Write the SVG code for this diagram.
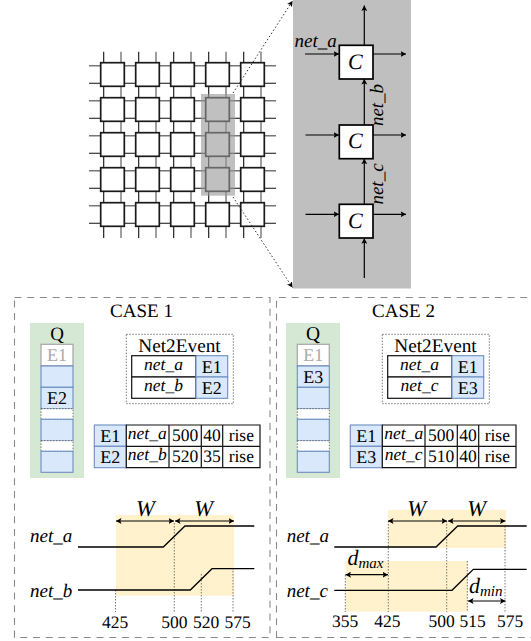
<svg xmlns="http://www.w3.org/2000/svg" width="531" height="641" viewBox="0 0 531 641">
<style>
text{font-family:"Liberation Serif","Times New Roman",serif;fill:#000;text-rendering:geometricPrecision}
.i{font-style:italic}
.t{font-size:17.5px}
.e{font-size:18px}
.m{text-anchor:middle}
.h{font-size:19px}
.gr{fill:none;stroke:#111;stroke-width:1.1}
.gy{fill:none;stroke:#777;stroke-width:1.4}
.cell{fill:#fff;stroke:#1a1a1a;stroke-width:1.7}
.cc{fill:#fff;stroke:#000;stroke-width:1.7}
.blue{fill:#dae8fc;stroke:#6c8ebf;stroke-width:1.1}
.old{fill:#fff;stroke:#aaa;stroke-width:1.3}
.gap{fill:#fff;stroke:#555;stroke-width:.8;stroke-dasharray:1.5 1.5}
.tab{fill:#fff;stroke:#111;stroke-width:1.2}
.dot{fill:none;stroke:#555;stroke-width:.8;stroke-dasharray:1.5 1.5}
.zl{fill:none;stroke:#333;stroke-width:1;stroke-dasharray:1.5 2.2;marker-end:url(#a)}
.dash{fill:none;stroke:#8a8a8a;stroke-width:1.1;stroke-dasharray:7 5.7}
.arr{fill:none;stroke:#000;stroke-width:1.2;marker-end:url(#a)}
.dbl{fill:none;stroke:#000;stroke-width:1.2;marker-start:url(#b);marker-end:url(#a)}
.wav{fill:none;stroke:#000;stroke-width:1.3}
</style>
<defs>
<marker id="a" markerWidth="6" markerHeight="6" refX="5.500" refY="3" orient="auto" markerUnits="userSpaceOnUse"><path d="M0 0L5.500 3L0 6L1.200 3Z" fill="#000"/></marker>
<marker id="b" markerWidth="6" markerHeight="6" refX="0" refY="3" orient="auto" markerUnits="userSpaceOnUse"><path d="M5.500 0L0 3L5.500 6L4.300 3Z" fill="#000"/></marker>
</defs>
<g id="grid">
<path class="gy" d="M89 65.700H276M89 100.700H276M89 135.700H276M89 170.700H276M89 205.700H276"/>
<path class="gr" d="M89 83.300H276M89 118.300H276M89 153.300H276M89 188.300H276M89 223.300H276"/>
<path class="gr" d="M103.700 51.700V238M138.700 51.700V238M173.700 51.700V238M208.700 51.700V238M243.700 51.700V238"/>
<path class="gy" d="M121 51.700V238M156 51.700V238M191 51.700V238M226 51.700V238M261 51.700V238"/>
<g id="cells">
<rect class="cell" x="100.700" y="62.700" width="23.600" height="23.600"/><rect class="cell" x="135.700" y="62.700" width="23.600" height="23.600"/><rect class="cell" x="170.700" y="62.700" width="23.600" height="23.600"/><rect class="cell" x="205.700" y="62.700" width="23.600" height="23.600"/><rect class="cell" x="240.700" y="62.700" width="23.600" height="23.600"/>
<rect class="cell" x="100.700" y="97.700" width="23.600" height="23.600"/><rect class="cell" x="135.700" y="97.700" width="23.600" height="23.600"/><rect class="cell" x="170.700" y="97.700" width="23.600" height="23.600"/><rect class="cell" x="205.700" y="97.700" width="23.600" height="23.600"/><rect class="cell" x="240.700" y="97.700" width="23.600" height="23.600"/>
<rect class="cell" x="100.700" y="132.700" width="23.600" height="23.600"/><rect class="cell" x="135.700" y="132.700" width="23.600" height="23.600"/><rect class="cell" x="170.700" y="132.700" width="23.600" height="23.600"/><rect class="cell" x="205.700" y="132.700" width="23.600" height="23.600"/><rect class="cell" x="240.700" y="132.700" width="23.600" height="23.600"/>
<rect class="cell" x="100.700" y="167.700" width="23.600" height="23.600"/><rect class="cell" x="135.700" y="167.700" width="23.600" height="23.600"/><rect class="cell" x="170.700" y="167.700" width="23.600" height="23.600"/><rect class="cell" x="205.700" y="167.700" width="23.600" height="23.600"/><rect class="cell" x="240.700" y="167.700" width="23.600" height="23.600"/>
<rect class="cell" x="100.700" y="202.700" width="23.600" height="23.600"/><rect class="cell" x="135.700" y="202.700" width="23.600" height="23.600"/><rect class="cell" x="170.700" y="202.700" width="23.600" height="23.600"/><rect class="cell" x="205.700" y="202.700" width="23.600" height="23.600"/><rect class="cell" x="240.700" y="202.700" width="23.600" height="23.600"/>
</g>
<rect id="highlight" x="201" y="94" width="34" height="101.700" fill="#989898" fill-opacity=".61"/>
</g>
<g id="zoom-lines">
<path class="zl" d="M233 93L292.500 1"/>
<path class="zl" d="M233 197L292.500 287.500"/>
</g>
<rect id="zoom-panel" x="293" y="0" width="118" height="288.500" fill="#bfbfbf"/>
<g id="connectors">
<path class="arr" d="M305 54H339"/><path class="arr" d="M373 54H406"/>
<path class="arr" d="M305.500 135H339"/><path class="arr" d="M373 135H406"/>
<path class="arr" d="M305.500 214.300H339"/><path class="arr" d="M373 214.300H406"/>
<path class="arr" d="M364.300 45V5.500"/><path class="arr" d="M364.300 125V79"/><path class="arr" d="M364.300 204.300V158.700"/><path class="arr" d="M364.300 278V238.300"/>
</g>
<g id="node-c1"><rect class="cc" x="339.300" y="45.300" width="33.700" height="33.700"/><text class="i m" x="355.300" y="69.300" font-size="22">C</text></g>
<g id="node-c2"><rect class="cc" x="339.300" y="125" width="33.700" height="33.700"/><text class="i m" x="355.300" y="148.300" font-size="22">C</text></g>
<g id="node-c3"><rect class="cc" x="339.300" y="204.300" width="33.700" height="33.700"/><text class="i m" x="355.300" y="228.300" font-size="22">C</text></g>
<text class="i h" x="294.500" y="47">net_a</text>
<text class="i h m" transform="translate(383.300 105) rotate(-90)">net_b</text>
<text class="i h m" transform="translate(383.300 184) rotate(-90)">net_c</text>

<g id="case1">
<rect class="dash" x="14.500" y="297.500" width="255.500" height="340"/>
<text class="h m" x="141.500" y="317.300">CASE 1</text>
<g id="q1">
<rect x="30" y="323" width="54" height="155" fill="#d5e8d4"/>
<text class="h m" x="57" y="340" font-size="19.500">Q</text>
<rect class="old" x="41" y="344.300" width="32" height="21.500"/><text class="e m" x="57" y="360.500" style="fill:#aaa">E1</text>
<rect class="blue" x="41" y="366" width="32" height="21.300"/>
<rect class="blue" x="41" y="387.300" width="32" height="21.300"/><text class="e m" x="57" y="404.300">E2</text>
<rect class="gap" x="41" y="408.700" width="32" height="10.600"/>
<rect class="blue" x="41" y="419.300" width="32" height="21.400"/>
<rect class="gap" x="41" y="440.700" width="32" height="10.600"/>
<rect class="blue" x="41" y="451.300" width="32" height="21"/>
</g>
<g id="n2e1">
<rect class="dot" x="126.300" y="334.300" width="107" height="69.400"/>
<text class="m" font-size="19.300" x="179.500" y="351.700">Net2Event</text>
<rect class="tab" x="131.700" y="355.700" width="64.300" height="21.300"/><text class="i t m" x="163.500" y="369.500">net_a</text>
<rect class="tab" x="131.700" y="377" width="64.300" height="21.300"/><text class="i t m" x="163.500" y="391">net_b</text>
<rect class="blue" x="196" y="355.700" width="31.700" height="21.300"/><text class="e m" x="211.800" y="372.700">E1</text>
<rect class="blue" x="196" y="377" width="31.700" height="21.300"/><text class="e m" x="211.800" y="394">E2</text>
</g>
<g id="ev1">
<rect class="blue" x="94.300" y="425" width="32" height="21.300"/><text class="e m" x="110.300" y="441.700">E1</text>
<rect class="blue" x="94.300" y="446.300" width="32" height="21.400"/><text class="e m" x="110.300" y="462.500">E2</text>
<path class="tab" d="M126.300 425H260V467.700H126.300ZM126.300 446.300H260M169 425V467.700M201.300 425V467.700M222.700 425V467.700"/>
<text class="i t m" x="147.300" y="438.500">net_a</text><text class="t m" x="185.200" y="440.500">500</text><text class="t m" x="212" y="440.500">40</text><text class="t m" x="241.300" y="440.500">rise</text>
<text class="i t m" x="147.300" y="460">net_b</text><text class="t m" x="185.200" y="462.300">520</text><text class="t m" x="212" y="462.300">35</text><text class="t m" x="241.300" y="462.300">rise</text>
</g>
<g id="timing1">
<rect x="116" y="515" width="118" height="80.700" fill="#fff2cc"/>
<path class="dot" d="M115.500 590V612M174.300 523V612M201.300 574V612M233 568V612"/>
<path class="wav" d="M78 547H163.300L185 526H254.300"/>
<path class="wav" d="M78 590H190.300L212 568.700H254.300"/>
<path class="dbl" d="M116 521H174"/><path class="dbl" d="M175 521H234"/>
<text class="i m" x="145.300" y="516" font-size="22.500">W</text><text class="i m" x="203.700" y="516" font-size="22.500">W</text>
<text class="i h" x="30" y="542">net_a</text><text class="i h" x="30" y="597">net_b</text>
<text class="t m" x="115" y="628">425</text><text class="t m" x="174.300" y="628">500</text><text class="t m" x="206" y="628">520</text><text class="t m" x="237.700" y="628">575</text>
</g>
</g>

<g id="case2">
<path class="dash" d="M276.500 638V297.500H531M276.500 637.500H531"/>
<text class="h m" x="403.500" y="317.300">CASE 2</text>
<g id="q2">
<rect x="286" y="323" width="54" height="155" fill="#d5e8d4"/>
<text class="m" x="313" y="340" font-size="19.500">Q</text>
<rect class="old" x="297.300" y="344.300" width="32" height="21.500"/><text class="e m" x="313.300" y="360.500" style="fill:#aaa">E1</text>
<rect class="blue" x="297.300" y="366" width="32" height="21.300"/><text class="e m" x="313.300" y="383.300">E3</text>
<rect class="blue" x="297.300" y="387.300" width="32" height="21.300"/>
<rect class="gap" x="297.300" y="408.700" width="32" height="10.600"/>
<rect class="blue" x="297.300" y="419.300" width="32" height="21.400"/>
<rect class="gap" x="297.300" y="440.700" width="32" height="10.600"/>
<rect class="blue" x="297.300" y="451.300" width="32" height="21"/>
</g>
<g id="n2e2">
<rect class="dot" x="382.300" y="334.300" width="107" height="69.400"/>
<text class="m" font-size="19.300" x="435.500" y="351.700">Net2Event</text>
<rect class="tab" x="387.700" y="355.700" width="64.300" height="21.300"/><text class="i t m" x="419.500" y="369.500">net_a</text>
<rect class="tab" x="387.700" y="377" width="64.300" height="21.300"/><text class="i t m" x="419.500" y="391">net_c</text>
<rect class="blue" x="452" y="355.700" width="31.700" height="21.300"/><text class="e m" x="467.800" y="372.700">E1</text>
<rect class="blue" x="452" y="377" width="31.700" height="21.300"/><text class="e m" x="467.800" y="394">E3</text>
</g>
<g id="ev2">
<rect class="blue" x="350.300" y="425" width="32" height="21.300"/><text class="e m" x="366.300" y="441.700">E1</text>
<rect class="blue" x="350.300" y="446.300" width="32" height="21.400"/><text class="e m" x="366.300" y="462.500">E3</text>
<path class="tab" d="M382.300 425H516V467.700H382.300ZM382.300 446.300H516M425 425V467.700M457.300 425V467.700M478.700 425V467.700"/>
<text class="i t m" x="403.700" y="438.500">net_a</text><text class="t m" x="441.200" y="440.500">500</text><text class="t m" x="468" y="440.500">40</text><text class="t m" x="497.300" y="440.500">rise</text>
<text class="i t m" x="403.700" y="460">net_c</text><text class="t m" x="441.200" y="462.300">510</text><text class="t m" x="468" y="462.300">40</text><text class="t m" x="497.300" y="462.300">rise</text>
</g>
<g id="timing2">
<rect x="388" y="510" width="118" height="38" fill="#fff2cc"/>
<rect x="345.300" y="561" width="122.700" height="50.700" fill="#fff2cc"/>
<path class="dot" d="M345.300 575V612M388.300 521V612M446.700 521V612M467.300 561V612M505 526V612"/>
<path class="wav" d="M334.300 547H436L457.700 526H526.700"/>
<path class="wav" d="M334.300 590.300H452L473.300 569.300H526.700"/>
<path class="dbl" d="M388 521H447"/><path class="dbl" d="M448 521H505.500"/>
<path class="dbl" d="M345.500 574.700H388"/><path class="dbl" d="M468 601H505.500"/>
<text class="i m" x="416.700" y="516" font-size="22.500">W</text><text class="i m" x="476.700" y="516" font-size="22.500">W</text>
<text class="i" x="347.500" y="565" font-size="22">d<tspan font-size="15" dy="3">max</tspan></text>
<text class="i" x="469" y="592.500" font-size="22">d<tspan font-size="15" dy="3">min</tspan></text>
<text class="i h" x="286.700" y="542">net_a</text><text class="i h" x="286.700" y="597">net_c</text>
<text class="t m" x="345" y="627">355</text><text class="t m" x="387.300" y="627">425</text><text class="t m" x="441.700" y="627">500</text><text class="t m" x="472.700" y="627">515</text><text class="t m" x="510" y="627">575</text>
</g>
</g>
</svg>
